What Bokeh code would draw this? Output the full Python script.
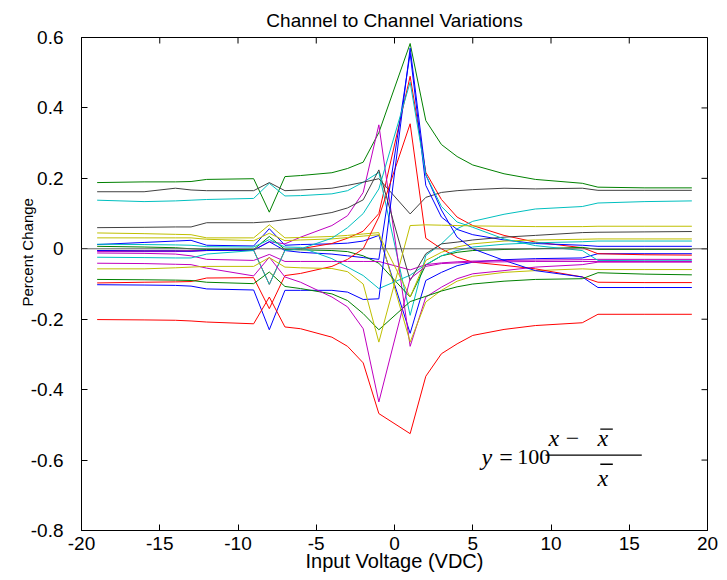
from bokeh.plotting import figure
from bokeh.models import (FixedTicker, PrintfTickFormatter, Span, Label, Title,
                          Range1d, BoxAnnotation)
from bokeh.embed import file_html
from bokeh.resources import INLINE

# ---------------- data ----------------
voltage = [-19, -16, -14, -13, -12, -9, -8, -7, -6, -4, -3, -2, -1,
           1, 2, 3, 4, 5, 7, 9, 12, 13, 16, 19]

ch_b1 = [0.012, 0.018, 0.022, 0.024, 0.010, 0.008, 0.057, 0.010, 0.012, 0.014, 0.016, 0.022, 0.038,
         -0.240, -0.090, -0.067, -0.048, -0.038, -0.031, -0.028, -0.026, -0.014, -0.014, -0.014]
ch_g1 = [0.188, 0.190, 0.190, 0.191, 0.197, 0.199, 0.104, 0.205, 0.208, 0.216, 0.228, 0.246, 0.330,
         0.583, 0.364, 0.296, 0.262, 0.238, 0.213, 0.197, 0.186, 0.175, 0.173, 0.173]
ch_r1 = [-0.005, -0.006, -0.006, -0.006, -0.005, -0.004, -0.101, -0.004, 0.000, 0.015, 0.030, 0.050, 0.100,
         0.490, 0.217, 0.140, 0.090, 0.066, 0.038, 0.019, 0.003, -0.014, -0.017, -0.018]
ch_c1 = [0.138, 0.134, 0.136, 0.138, 0.140, 0.143, 0.186, 0.150, 0.151, 0.156, 0.165, 0.189, 0.217,
         -0.189, -0.019, 0.014, 0.057, 0.078, 0.098, 0.113, 0.120, 0.130, 0.134, 0.136]
ch_m1 = [-0.008, -0.008, -0.008, -0.006, -0.004, -0.003, 0.020, 0.014, 0.033, 0.066, 0.094, 0.160, 0.352,
         -0.277, -0.137, -0.109, -0.085, -0.071, -0.062, -0.052, -0.045, -0.038, -0.038, -0.038]
ch_y1 = [0.045, 0.043, 0.041, 0.040, 0.031, 0.031, 0.068, 0.031, 0.032, 0.035, 0.038, 0.042, 0.046,
         -0.265, -0.151, -0.118, -0.092, -0.078, -0.067, -0.062, -0.057, -0.059, -0.059, -0.059]
ch_k1 = [0.162, 0.162, 0.172, 0.167, 0.165, 0.165, 0.188, 0.165, 0.167, 0.172, 0.180, 0.189, 0.199,
         0.099, 0.146, 0.160, 0.165, 0.168, 0.172, 0.170, 0.172, 0.166, 0.166, 0.166]

ch_b2 = [-0.005, -0.006, -0.006, -0.007, -0.005, -0.004, 0.020, -0.005, -0.010, -0.015, -0.020, -0.025, -0.030,
         0.555, 0.180, 0.090, 0.055, 0.040, 0.025, 0.015, 0.010, 0.007, 0.007, 0.007]
ch_g2 = [0.007, 0.005, 0.003, 0.000, -0.002, -0.002, 0.035, -0.002, -0.003, -0.005, -0.008, -0.020, -0.041,
         -0.137, -0.046, -0.020, -0.010, -0.005, -0.002, 0.000, 0.004, -0.002, -0.002, -0.002]
ch_r2 = [-0.097, -0.095, -0.094, -0.093, -0.083, -0.082, -0.170, -0.076, -0.070, -0.050, -0.030, 0.000, 0.090,
         0.355, 0.030, 0.000, -0.024, -0.038, -0.047, -0.057, -0.080, -0.095, -0.096, -0.096]
ch_c2 = [0.013, 0.012, 0.011, 0.010, 0.006, 0.005, 0.026, 0.005, 0.004, -0.028, -0.052, -0.076, -0.113,
         -0.075, -0.045, -0.020, -0.005, 0.005, 0.013, 0.017, 0.020, 0.022, 0.022, 0.022]
ch_m2 = [-0.012, -0.013, -0.015, -0.020, -0.030, -0.033, -0.016, -0.036, -0.036, -0.036, -0.036, -0.036, -0.036,
         -0.060, -0.045, -0.040, -0.037, -0.035, -0.033, -0.032, -0.031, -0.030, -0.030, -0.030]
ch_y2 = [0.031, 0.031, 0.031, 0.031, 0.027, 0.023, 0.044, 0.023, 0.025, 0.028, 0.032, 0.036, 0.040,
         -0.137, -0.033, -0.010, 0.005, 0.014, 0.022, 0.025, 0.027, 0.028, 0.028, 0.028]
ch_k2 = [0.060, 0.061, 0.062, 0.062, 0.074, 0.074, 0.077, 0.083, 0.088, 0.103, 0.116, 0.139, 0.224,
         -0.090, -0.014, 0.014, 0.019, 0.025, 0.033, 0.038, 0.046, 0.047, 0.048, 0.049]

ch_b3 = [-0.102, -0.103, -0.104, -0.106, -0.114, -0.117, -0.230, -0.118, -0.118, -0.118, -0.123, -0.144, -0.142,
         0.570, 0.210, 0.110, 0.033, 0.000, -0.033, -0.062, -0.080, -0.110, -0.110, -0.110]
ch_g3 = [-0.087, -0.088, -0.089, -0.090, -0.095, -0.099, -0.066, -0.107, -0.113, -0.128, -0.147, -0.184, -0.230,
         -0.150, -0.135, -0.120, -0.108, -0.100, -0.092, -0.087, -0.085, -0.068, -0.072, -0.074]
ch_r3 = [-0.201, -0.202, -0.203, -0.205, -0.208, -0.213, -0.137, -0.222, -0.227, -0.251, -0.277, -0.324, -0.468,
         -0.525, -0.362, -0.298, -0.270, -0.246, -0.229, -0.218, -0.210, -0.186, -0.186, -0.186]
ch_c3 = [-0.024, -0.025, -0.026, -0.026, -0.015, -0.005, -0.101, -0.005, 0.000, 0.030, 0.060, 0.100, 0.170,
         0.473, 0.210, 0.120, 0.076, 0.061, 0.028, 0.009, -0.005, -0.033, -0.034, -0.034]
ch_m3 = [-0.041, -0.042, -0.044, -0.045, -0.055, -0.077, -0.024, -0.080, -0.095, -0.137, -0.165, -0.227, -0.435,
         -0.085, -0.050, -0.042, -0.040, -0.038, -0.037, -0.036, -0.036, -0.036, -0.036, -0.036]
ch_y3 = [-0.057, -0.057, -0.054, -0.052, -0.050, -0.050, -0.025, -0.052, -0.054, -0.056, -0.065, -0.100, -0.265,
         0.066, 0.068, 0.067, 0.066, 0.065, 0.064, 0.063, 0.063, 0.064, 0.064, 0.064]

x_ticks = [-20, -15, -10, -5, 0, 5, 10, 15, 20]
y_ticks = [-0.8, -0.6, -0.4, -0.2, 0.0, 0.2, 0.4, 0.6]
x_lo, x_hi = -20, 20
y_lo, y_hi = -0.8, 0.6

BLUE, GREEN, RED, CYAN, MAG, YEL, BLK = "#0000ff", "#008000", "#ff0000", "#00bfbf", "#bf00bf", "#bfbf00", "#404040"

series = [
    (ch_b1, BLUE), (ch_g1, GREEN), (ch_r1, RED), (ch_c1, CYAN), (ch_m1, MAG), (ch_y1, YEL), (ch_k1, BLK),
    (ch_b2, BLUE), (ch_g2, GREEN), (ch_r2, RED), (ch_c2, CYAN), (ch_m2, MAG), (ch_y2, YEL), (ch_k2, BLK),
    (ch_b3, BLUE), (ch_g3, GREEN), (ch_r3, RED), (ch_c3, CYAN), (ch_m3, MAG), (ch_y3, YEL),
]

# ---------------- figure ----------------
FONT = "Liberation Sans"
W, H = 720, 580
ML, MR, MT, MB = 81, 13, 37, 50
p = figure(width=W, height=H, x_range=Range1d(x_lo, x_hi), y_range=Range1d(y_lo, y_hi),
           output_backend="svg", toolbar_location=None,
           title="Channel to Channel Variations",
           min_border_left=ML, min_border_right=MR, min_border_top=MT, min_border_bottom=MB)
p.background_fill_color = "white"
p.border_fill_color = "white"
p.outline_line_color = "black"
p.outline_line_width = 1
p.xgrid.visible = False
p.ygrid.visible = False

p.title.align = "center"
p.title.text_font = FONT
p.title.text_font_style = "normal"
p.title.text_font_size = "19px"
p.title.text_color = "black"
p.title.standoff = 14

for (vals, col) in series:
    p.line(voltage, vals, line_color=col, line_width=1)

p.add_layout(Span(location=0, dimension="width", line_color="#606060", line_width=1))

xa = p.xaxis[0]
xa.ticker = FixedTicker(ticks=x_ticks)
xa.formatter = PrintfTickFormatter(format="%g")
xa.axis_label = "Input Voltage (VDC)"
ya = p.yaxis[0]
ya.ticker = FixedTicker(ticks=y_ticks)
ya.formatter = PrintfTickFormatter(format="%g")

for ax in (xa, ya):
    ax.major_tick_in = 6
    ax.major_tick_out = 0
    ax.minor_tick_in = 0
    ax.minor_tick_out = 0
    ax.axis_line_color = "black"
    ax.major_tick_line_color = "black"
    ax.major_label_text_font = FONT
    ax.major_label_text_font_size = "19px"
    ax.major_label_text_color = "black"
    ax.axis_label_text_font = FONT
    ax.axis_label_text_font_size = "20px"
    ax.axis_label_text_font_style = "normal"
    ax.axis_label_text_color = "black"
xa.major_label_standoff = 6
xa.axis_label_standoff = -3
ya.major_label_standoff = 18

# y-axis title as a side title, shifted up so it is centred near 0 like the reference
ytitle = Title(text="Percent Change", align="left", offset=224, standoff=-17,
               text_font=FONT, text_font_size="15px", text_font_style="normal",
               text_color="black")
p.add_layout(ytitle, "left")

# mirrored inward ticks on the top and right edges of the box (6 px long)
frame_w = W - ML - MR
frame_h = H - MT - MB
dy_tick = 6 * (y_hi - y_lo) / frame_h
dx_tick = 6 * (x_hi - x_lo) / frame_w
p.segment(x0=x_ticks, y0=[y_hi] * len(x_ticks), x1=x_ticks, y1=[y_hi - dy_tick] * len(x_ticks),
          line_color="black", line_width=1)
p.segment(x0=[x_hi] * len(y_ticks), y0=y_ticks, x1=[x_hi - dx_tick] * len(y_ticks), y1=y_ticks,
          line_color="black", line_width=1)

# ---------------- equation ----------------
SERIF = "Liberation Serif"
def lab(x, y, t, italic=True, size="24px"):
    p.add_layout(Label(x=x, y=y, text=t, text_font=SERIF, text_font_size=size,
                       text_font_style="italic" if italic else "normal",
                       text_color="black", text_baseline="alphabetic", text_align="left"))

lab(5.56, -0.592, "y")
lab(6.7, -0.592, "=", italic=False)
lab(7.85, -0.592, "100", italic=False, size="22px")
lab(9.84, -0.538, "x")
lab(10.95, -0.538, "\u2212", italic=False)
lab(12.97, -0.538, "x")
lab(12.97, -0.652, "x")
p.add_layout(BoxAnnotation(left=9.65, right=15.8, bottom=-0.588, top=-0.584,
                           fill_color="black", fill_alpha=1, line_alpha=0))
p.add_layout(BoxAnnotation(left=13.15, right=13.95, bottom=-0.514, top=-0.510,
                           fill_color="black", fill_alpha=1, line_alpha=0))
p.add_layout(BoxAnnotation(left=13.15, right=13.95, bottom=-0.614, top=-0.610,
                           fill_color="black", fill_alpha=1, line_alpha=0))

open("out.html", "w").write(file_html(p, INLINE))
